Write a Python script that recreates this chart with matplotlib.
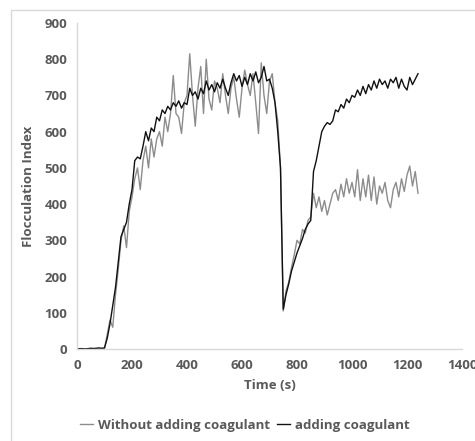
import matplotlib
matplotlib.use("Agg")
import matplotlib.pyplot as plt
from matplotlib.patches import Rectangle
import numpy as np

plt.rcParams['font.family'] = ['Open Sans', 'DejaVu Sans']

time_s = list(range(0, 1250, 10))

without_coagulant = [
    0, 1, 0, 1, 0, 1, 2, 1, 0, 1, 2,            # 0-100
    40, 80, 60, 150, 220, 300, 340, 280, 380, 420,   # 110-200
    470, 500, 440, 520, 560, 500, 580, 530, 580, 600,  # 210-300
    560, 640, 600, 650, 755, 650, 640, 595, 680, 700,  # 310-400
    815, 700, 615, 720, 780, 650, 800, 690, 660, 740,  # 410-500
    720, 680, 760, 700, 650, 720, 750, 690, 640, 720,  # 510-600
    770, 730, 700, 760, 680, 595, 790, 700, 650, 740,  # 610-700
    760, 680, 630, 500, 105, 160, 185, 225, 260, 300,  # 710-800
    290, 330, 320, 355, 365, 430, 390, 420, 380, 410,  # 810-900
    370, 400, 430, 440, 410, 455, 420, 470, 430, 460,  # 910-1000
    420, 495, 410, 470, 420, 480, 410, 475, 400, 450,  # 1010-1100
    430, 460, 410, 390, 440, 460, 420, 470, 435, 480,  # 1110-1200
    505, 450, 490, 430,                           # 1210-1240
]

adding_coagulant = [
    0, 1, 1, 0, 1, 2, 1, 2, 3, 2, 3,            # 0-100
    30, 70, 120, 170, 240, 310, 330, 350, 400, 440,  # 110-200
    520, 530, 525, 560, 600, 575, 610, 600, 640, 630,  # 210-300
    660, 650, 670, 660, 680, 670, 685, 665, 680, 675,  # 310-400
    720, 700, 710, 690, 720, 705, 740, 715, 730, 710,  # 410-500
    735, 720, 745, 720, 700, 735, 760, 740, 755, 725,  # 510-600
    750, 730, 760, 740, 765, 735, 750, 780, 740, 745,  # 610-700
    720, 680, 600, 500, 110, 150, 180, 215, 240, 265,  # 710-800
    285, 305, 330, 345, 355, 490, 520, 560, 600, 615,  # 810-900
    625, 620, 630, 660, 655, 675, 665, 690, 680, 700,  # 910-1000
    695, 715, 700, 725, 705, 730, 715, 740, 720, 745,  # 1010-1100
    730, 740, 720, 745, 735, 750, 720, 745, 725, 715,  # 1110-1200
    750, 730, 745, 760,                           # 1210-1240
]

x_ticks = [0, 200, 400, 600, 800, 1000, 1200, 1400]
y_ticks = [0, 100, 200, 300, 400, 500, 600, 700, 800, 900]

W, H = 475, 441
fig = plt.figure(figsize=(W / 100, H / 100), dpi=100)
fig.patch.set_facecolor('white')

# outer chart-area border
fig.patches.append(Rectangle((11 / W, -0.05), 1.2, 1 - 10 / H + 0.05,
                             transform=fig.transFigure, fill=False,
                             edgecolor='#d9d9d9', linewidth=1.0))

ax = fig.add_axes([77 / W, 1 - 349 / H, (462 - 77) / W, (349 - 23) / H])
l1, = ax.plot(time_s, without_coagulant, color='#8c8c8c', linewidth=1.0)
l2, = ax.plot(time_s, adding_coagulant, color='#111111', linewidth=1.0)

ax.set_xlim(0, 1400)
ax.set_ylim(0, 900)
ax.set_xticks(x_ticks)
ax.set_yticks(y_ticks)
tick_color = '#595959'
ax.tick_params(length=0, labelsize=9.5, colors=tick_color, pad=7)
for lab in ax.get_xticklabels() + ax.get_yticklabels():
    lab.set_fontweight('bold')

for s in ['top', 'right']:
    ax.spines[s].set_visible(False)
for s in ['left', 'bottom']:
    ax.spines[s].set_color('#d9d9d9')
    ax.spines[s].set_linewidth(1.0)

ax.set_xlabel('Time (s)', fontsize=9.5, fontweight='bold', color=tick_color, labelpad=5)
ax.set_ylabel('Flocculation Index', fontsize=9.5, fontweight='bold', color=tick_color, labelpad=7)

leg = fig.legend([l1, l2], ['Without adding coagulant', 'adding coagulant'],
                 loc='center', bbox_to_anchor=(245 / W, 1 - 425 / H), ncol=2,
                 frameon=False, handlelength=1.0, handletextpad=0.4,
                 columnspacing=0.5, fontsize=9.5)
for t in leg.get_texts():
    t.set_fontweight('bold')
    t.set_color(tick_color)

fig.savefig('out.png', dpi=100, facecolor='white')
